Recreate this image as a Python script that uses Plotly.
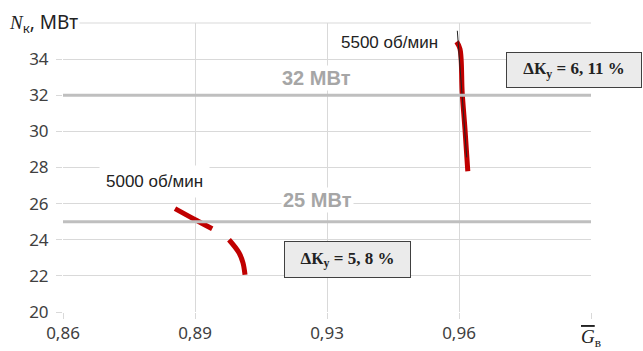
import plotly.graph_objects as go

# axis ticks
x_ticks = [0.86, 0.893, 0.926, 0.959, 0.992]
x_tick_labels = ["0,86", "0,89", "0,93", "0,96", ""]
y_ticks = [20, 22, 24, 26, 28, 30, 32, 34, 36]
y_tick_labels = ["20", "22", "24", "26", "28", "30", "32", "34", ""]

# 5000 rpm curve (two strokes)
g5000_a_x = [0.888, 0.8927, 0.8973]
g5000_a_y = [25.72, 25.15, 24.61]
g5000_b_x = [0.9015, 0.904, 0.905, 0.9055]
g5000_b_y = [24.0, 23.28, 22.72, 22.06]

# 5500 rpm curve
g5500_x = [0.9584, 0.95925, 0.9598, 0.9605, 0.9612]
g5500_y = [34.96, 34.56, 32.15, 30.11, 27.79]
g5500_ref_x = [0.95858, 0.96093]
g5500_ref_y = [35.57, 28.56]

# power limits
power_limits = [32, 25]
power_labels = ["32 МВт", "25 МВт"]

RED = "#c00000"
GRID = "#d9d9d9"
fig = go.Figure()

# top grid line (upper edge of the plot area, not clipped)
fig.add_shape(type="line", xref="paper", x0=0, x1=1, yref="paper",
              y0=1, y1=1, line=dict(color=GRID, width=1), layer="below")

for v in power_limits:
    fig.add_shape(type="line", xref="paper", x0=0, x1=1, yref="y", y0=v, y1=v,
                  line=dict(color="#bfbfbf", width=3), layer="above")

fig.add_trace(go.Scatter(x=g5000_a_x, y=g5000_a_y, mode="lines",
                         line=dict(color=RED, width=5, shape="spline")))
fig.add_trace(go.Scatter(x=g5000_b_x, y=g5000_b_y, mode="lines",
                         line=dict(color=RED, width=5, shape="spline")))
fig.add_trace(go.Scatter(x=g5500_x, y=g5500_y, mode="lines",
                         line=dict(color=RED, width=5, shape="spline")))
fig.add_trace(go.Scatter(x=g5500_ref_x, y=g5500_ref_y, mode="lines",
                         line=dict(color="#222222", width=1)))

annotations = []
label_pos = [(0.92325, 32.94), (0.9235, 26.22)]
for (ax, ay), txt in zip(label_pos, power_labels):
    annotations.append(dict(x=ax, y=ay, xref="x", yref="y", text="<b>" + txt + "</b>",
                            showarrow=False, bgcolor="white", borderpad=1,
                            font=dict(family="Liberation Sans", size=20, color="#a6a6a6")))

annotations.append(dict(x=0.88275, y=27.22, xref="x", yref="y", text="5000 об/мин",
                        showarrow=False, bgcolor="white", borderpad=6,
                        font=dict(family="Liberation Sans", size=17, color="#222222")))
annotations.append(dict(x=0.9415, y=34.94, xref="x", yref="y", text="5500 об/мин",
                        showarrow=False,
                        font=dict(family="Liberation Sans", size=17, color="#222222")))

box_font = dict(family="Liberation Serif", size=17, color="#222222")
annotations.append(dict(x=0.9878, y=33.39, xref="x", yref="y",
                        text="<b>ΔК<sub>у</sub> = 6, 11 %</b>", showarrow=False,
                        bgcolor="#ebebeb", bordercolor="#404040", borderwidth=1,
                        width=128, height=28, borderpad=3, font=box_font))
annotations.append(dict(x=0.9311, y=22.92, xref="x", yref="y",
                        text="<b>ΔК<sub>у</sub> = 5, 8 %</b>", showarrow=False,
                        bgcolor="#ebebeb", bordercolor="#404040", borderwidth=1,
                        width=119, height=29, borderpad=3, font=box_font))

annotations.append(dict(x=-0.106, y=1.0, xref="paper", yref="paper", xanchor="left",
                        yanchor="middle", showarrow=False, bgcolor="white",
                        text="<span style='font-family:Liberation Serif'><i>N</i></span><sub>к</sub>, МВт",
                        font=dict(family="Noto Sans", size=19, color="#222222")))
annotations.append(dict(x=1.0, y=-0.09, xref="paper", yref="paper", xanchor="center",
                        yanchor="middle", showarrow=False,
                        text="<span style='text-decoration:overline'><i>G</i></span><sub>в</sub>",
                        font=dict(family="Liberation Serif", size=19, color="#222222")))

fig.update_layout(
    width=643, height=351,
    margin=dict(l=63, r=52, t=23, b=39, autoexpand=False),
    paper_bgcolor="white", plot_bgcolor="white",
    showlegend=False,
    annotations=annotations,
    font=dict(family="Noto Sans", size=17, color="#404040"),
)
fig.update_xaxes(range=[0.86, 0.992], tickvals=x_ticks, ticktext=x_tick_labels,
                 showgrid=True, gridcolor=GRID, gridwidth=1,
                 ticks="outside", ticklen=6, tickcolor=GRID,
                 zeroline=False, showline=False, automargin=False)
fig.update_yaxes(range=[20, 36], tickvals=y_ticks, ticktext=y_tick_labels,
                 showgrid=True, gridcolor=GRID, gridwidth=1,
                 ticks="outside", ticklen=6, tickcolor=GRID,
                 zeroline=False, showline=False, ticklabelstandoff=4, automargin=False)

fig.write_html("out.html", config={"displayModeBar": False},
               post_script="document.body.style.margin='0';document.body.style.overflow='hidden';")
